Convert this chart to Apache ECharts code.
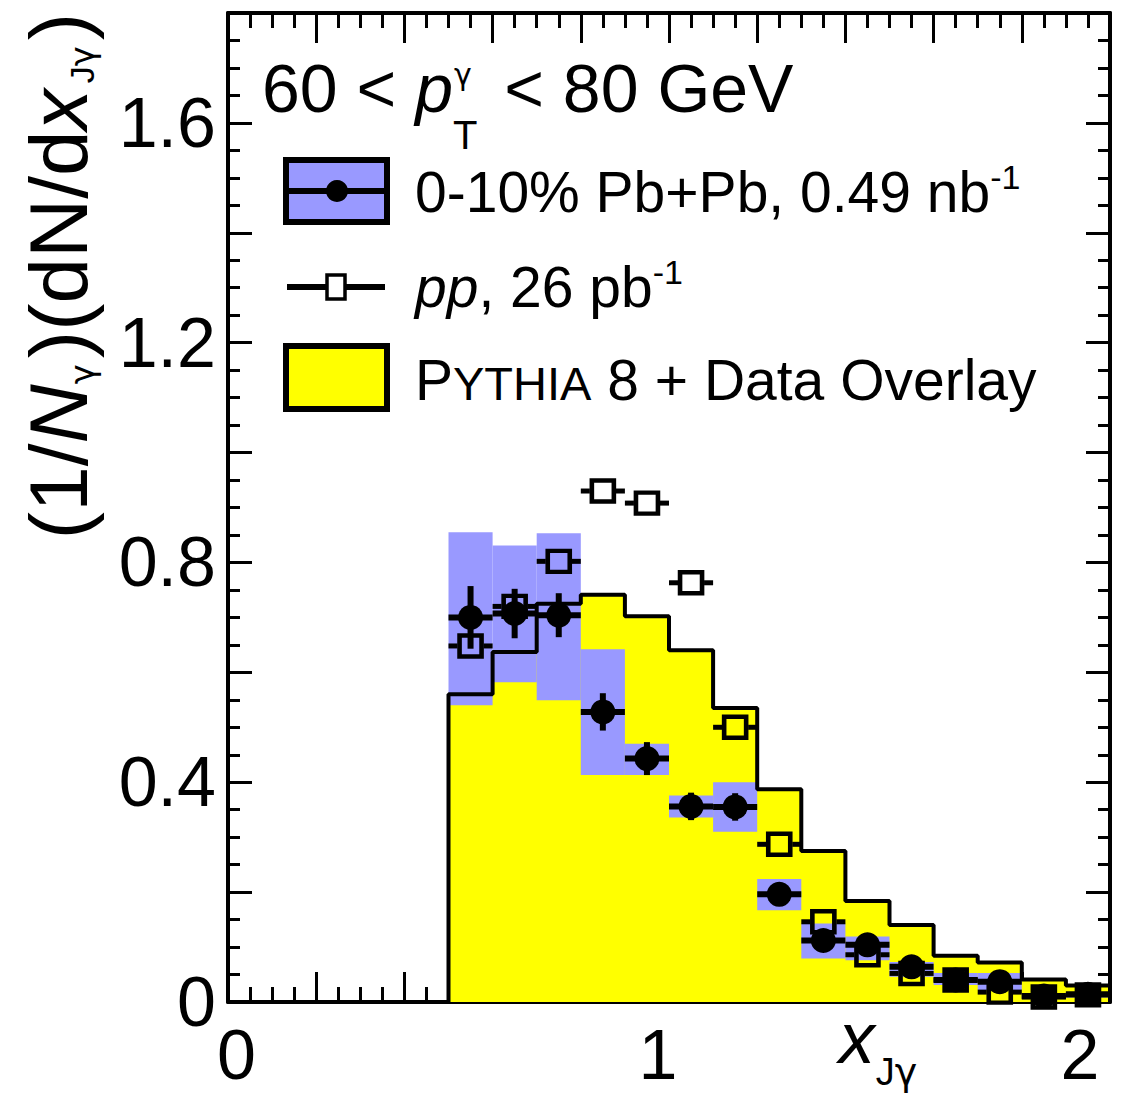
<!DOCTYPE html>
<html>
<head>
<meta charset="utf-8">
<title>x_Jγ distribution, 60 &lt; pT &lt; 80 GeV</title>
<script src="https://cdn.jsdelivr.net/npm/echarts@6/dist/echarts.min.js"></script>
<style>
  html, body { margin: 0; padding: 0; background: #ffffff; }
  #chart { width: 1129px; height: 1102px; }
</style>
</head>
<body>
<div id="chart"></div>
<script>
// ---- data: x_Jγ bins of width 0.1 from 0.5 to 2.0 ----
const binLow = [0.5, 0.6, 0.7, 0.8, 0.9, 1.0, 1.1, 1.2, 1.3, 1.4, 1.5, 1.6, 1.7, 1.8, 1.9];
const binWidth = 0.1;

// PYTHIA 8 + Data Overlay
const pythia = [0.560, 0.637, 0.725, 0.741, 0.702, 0.640, 0.535, 0.387, 0.275, 0.184, 0.140, 0.084, 0.072, 0.041, 0.030];

// 0-10% Pb+Pb: central values, statistical errors, systematic band
const pbpb     = [0.700, 0.707, 0.704, 0.528, 0.443, 0.356, 0.355, 0.196, 0.112, 0.104, 0.064, 0.040, 0.037, 0.011, 0.014];
const pbpbStat = [0.057, 0.045, 0.040, 0.034, 0.030, 0.025, 0.025, 0.015, 0.012, 0.010, 0.008, 0.006, 0.006, 0.004, 0.004];
const pbpbSysLow  = [0.540, 0.582, 0.549, 0.413, 0.413, 0.336, 0.310, 0.167, 0.079, 0.076, 0.046, 0.031, 0.022, 0.006, 0.008];
const pbpbSysHigh = [0.855, 0.831, 0.853, 0.642, 0.470, 0.376, 0.400, 0.224, 0.143, 0.119, 0.073, 0.053, 0.053, 0.016, 0.018];

// pp reference
const pp = [0.648, 0.720, 0.802, 0.930, 0.908, 0.763, 0.500, 0.287, 0.146, 0.086, 0.052, 0.040, 0.018, 0.009, 0.013];

// tick labels
const xTickLabels = ['0', '1', '2'];
const yTickLabels = ['0', '0.4', '0.8', '1.2', '1.6'];

// ---- styling ----
const FONT = '"Liberation Sans", Arial, Helvetica, sans-serif';
const GREEK = '"DejaVu Sans", "Liberation Sans", sans-serif';
const BLUE = '#9999ff';
const YELLOW = '#ffff00';
const BLACK = '#000000';

const binCenters = binLow.map(x => +(x + binWidth / 2).toFixed(3));
const lastEdge = +(binLow[binLow.length - 1] + binWidth).toFixed(3);

// step outline of the MC histogram, closed down to zero at both ends
const pythiaSteps = [[binLow[0], 0]]
  .concat(binLow.map((x, i) => [x, pythia[i]]))
  .concat([[lastEdge, pythia[pythia.length - 1]], [lastEdge, 0]]);

// Rich-text fragments sharing one bottom line; padding-bottom lifts a fragment
function scriptStyles(F, f, o) {
  o = o || {};
  const P = o.P || 0, Ps = o.Ps || 0, Q = o.Q || 0, sg = o.sg || 0, sgR = o.sgR || 0;
  const scF = Math.round(F * (o.sc || 0.8));
  const base = { fontFamily: FONT, fill: BLACK, color: BLACK, verticalAlign: 'bottom' };
  return {
    m:    Object.assign({}, base, { fontSize: F, lineHeight: F, padding: [0, 0, P, 0] }),
    mi:   Object.assign({}, base, { fontSize: F, lineHeight: F, padding: [0, 0, P, 0], fontStyle: 'italic' }),
    sub:  Object.assign({}, base, { fontSize: f, lineHeight: f, padding: [0, sgR, Ps, sg] }),
    subg: Object.assign({}, base, { fontSize: f, lineHeight: f, padding: [0, sg, Ps, 0], fontFamily: GREEK }),
    sup:  Object.assign({}, base, { fontSize: f, lineHeight: f, padding: [0, 0, Q, 0] }),
    sc:   Object.assign({}, base, { fontSize: scF, lineHeight: scF, padding: [0, 0, P + 0.15 * (F - scF), 0] })
  };
}

function textWidth(str, size, style) {
  const ctx = document.createElement('canvas').getContext('2d');
  ctx.font = (style || 'normal') + ' normal ' + size + 'px ' + FONT;
  return ctx.measureText(str).width;
}

function labelFor(list, v) {
  const hit = list.find(t => Math.abs(parseFloat(t) - v) < 1e-6);
  return hit === undefined ? '' : hit;
}

// ---- header and legend ----
const headF = 68, headSub = 40;
const headX = 262;
const gammaX = headX + textWidth('60 < ', headF) + textWidth('p', headF, 'italic') + 1;
const legF = 57, legSup = 34;

const graphicElements = [
  {
    type: 'text', x: headX, y: 162.2, z: 100,
    style: {
      text: '{m|60 < }{mi|p}{sub|T}{m| < 80 GeV}',
      rich: scriptStyles(headF, headSub, { P: 40, Ps: 7.6, sgR: 8 }),
      align: 'left', verticalAlign: 'bottom', fontFamily: FONT, fontSize: headF, fill: BLACK
    }
  },
  {
    type: 'text', x: gammaX, y: 74, z: 100,
    style: { text: 'γ', fontFamily: GREEK, fontSize: 30, fill: BLACK, align: 'left', verticalAlign: 'middle' }
  },
  // Pb+Pb entry: band with marker and error line
  { type: 'rect', z: 100, shape: { x: 286, y: 160, width: 101, height: 62 },
    style: { fill: BLUE, stroke: BLACK, lineWidth: 6 } },
  { type: 'line', z: 101, shape: { x1: 286, y1: 191, x2: 387, y2: 191 },
    style: { stroke: BLACK, lineWidth: 6 } },
  { type: 'circle', z: 102, shape: { cx: 337, cy: 191, r: 11 }, style: { fill: BLACK } },
  {
    type: 'text', x: 415, y: 220.6, z: 100,
    style: {
      text: '{m|0-10% Pb+Pb, 0.49 nb}{sup|-1}',
      rich: scriptStyles(legF, legSup, { Q: 27 }),
      align: 'left', verticalAlign: 'bottom', fontFamily: FONT, fontSize: legF, fill: BLACK
    }
  },
  // pp entry: line with open square
  { type: 'line', z: 100, shape: { x1: 287, y1: 287, x2: 385, y2: 287 },
    style: { stroke: BLACK, lineWidth: 6 } },
  { type: 'rect', z: 101, shape: { x: 327, y: 275, width: 18, height: 24 },
    style: { fill: '#ffffff', stroke: BLACK, lineWidth: 3.5 } },
  {
    type: 'text', x: 415, y: 315.6, z: 100,
    style: {
      text: '{mi|pp}{m|, 26 pb}{sup|-1}',
      rich: scriptStyles(legF, legSup, { Q: 27 }),
      align: 'left', verticalAlign: 'bottom', fontFamily: FONT, fontSize: legF, fill: BLACK
    }
  },
  // MC entry: filled box
  { type: 'rect', z: 100, shape: { x: 286, y: 346, width: 101, height: 63 },
    style: { fill: YELLOW, stroke: BLACK, lineWidth: 6 } },
  {
    type: 'text', x: 415, y: 408.6, z: 100,
    style: {
      text: '{m|P}{sc|YTHIA}{m| 8 + Data Overlay}',
      rich: scriptStyles(legF, legSup, { sc: 0.82 }),
      align: 'left', verticalAlign: 'bottom', fontFamily: FONT, fontSize: legF, fill: BLACK
    }
  }
];

// ---- axes ----
const tickLine = { color: BLACK, width: 3 };
const frameLine = { show: true, onZero: false, lineStyle: { color: BLACK, width: 4 } };

function xAxisDef(position, withLabels) {
  const ax = {
    type: 'value', position: position, min: 0, max: 2, interval: 0.2,
    axisLine: frameLine,
    axisTick: { show: true, inside: true, length: 30, lineStyle: tickLine },
    minorTick: { show: true, splitNumber: 4, length: 15, lineStyle: tickLine },
    splitLine: { show: false }, minorSplitLine: { show: false },
    axisLabel: { show: false }
  };
  if (withLabels) {
    const lab = { fontFamily: FONT, fontSize: 70, lineHeight: 70, color: BLACK };
    ax.axisLabel = {
      show: true, margin: 18, color: BLACK, fontFamily: FONT, fontSize: 70,
      showMinLabel: true, showMaxLabel: true,
      formatter: v => {
        const t = labelFor(xTickLabels, v);
        return t === '' ? '' : '{t' + t + '|' + t + '}';
      },
      rich: {
        t0: Object.assign({}, lab, { padding: [0, 0, 0, 17] }),
        t1: Object.assign({}, lab, { padding: [0, 22, 0, 0] }),
        t2: Object.assign({}, lab, { padding: [0, 60, 0, 0] })
      }
    };
    ax.name = '{mi|x}{sub|J}{subg|γ}';
    ax.nameLocation = 'end';
    ax.nameGap = -231.5;
    ax.nameMoveOverlap = false;
    ax.nameTextStyle = {
      align: 'center', verticalAlign: 'top', padding: [16.5, 0, 0, 0],
      rich: scriptStyles(72, 38, { P: 17, sg: 1 })
    };
  }
  return ax;
}

function yAxisDef(position, withLabels) {
  const ax = {
    type: 'value', position: position, min: 0, max: 1.8, interval: 0.2,
    axisLine: frameLine,
    axisTick: { show: true, inside: true, length: 24, lineStyle: tickLine },
    minorTick: { show: true, splitNumber: 4, length: 12, lineStyle: tickLine },
    splitLine: { show: false }, minorSplitLine: { show: false },
    axisLabel: { show: false }
  };
  if (withLabels) {
    ax.axisLabel = {
      show: true, margin: 12, color: BLACK, fontFamily: FONT, fontSize: 70,
      showMinLabel: true, showMaxLabel: true,
      formatter: v => labelFor(yTickLabels, v)
    };
    ax.name = '{m|(1/}{mi|N}{subg|γ}{m|)(dN/d}{mi|x}{sub|J}{subg|γ}{m|)}';
    ax.nameLocation = 'middle';
    ax.nameRotate = 90;
    ax.nameGap = 128.7;
    ax.nameMoveOverlap = false;
    ax.nameTextStyle = {
      padding: [0, 0, 0, 463],
      rich: scriptStyles(82, 34, { sg: 6 })
    };
  }
  return ax;
}

// ---- series ----
const series = [
  {
    name: 'PYTHIA 8 + Data Overlay', type: 'line', data: pythiaSteps, step: 'end',
    symbol: 'none', lineStyle: { width: 0, opacity: 0 },
    areaStyle: { color: YELLOW, opacity: 1 }, z: 1, silent: true
  },
  {
    name: '0-10% Pb+Pb syst.', type: 'custom', z: 2, silent: true,
    data: binLow.map((x, i) => [x, pbpbSysLow[i], pbpbSysHigh[i]]),
    encode: { x: 0, y: [1, 2] },
    renderItem: (params, api) => {
      const a = api.coord([api.value(0), api.value(2)]);
      const b = api.coord([api.value(0) + binWidth, api.value(1)]);
      return { type: 'rect', shape: { x: a[0], y: a[1], width: b[0] - a[0], height: b[1] - a[1] },
               style: { fill: BLUE } };
    }
  },
  {
    name: 'PYTHIA 8 outline', type: 'line', data: pythiaSteps, step: 'end',
    symbol: 'none', lineStyle: { color: BLACK, width: 4 }, z: 3, silent: true
  },
  {
    name: 'pp bin width', type: 'custom', z: 4, silent: true,
    data: binCenters.map((x, i) => [x, pp[i]]),
    encode: { x: 0, y: 1 },
    renderItem: (params, api) => {
      const xc = api.value(0), y = api.value(1);
      const l = api.coord([xc - binWidth / 2, y]);
      const r = api.coord([xc + binWidth / 2, y]);
      const c = api.coord([xc, y]);
      const half = 13;
      const st = { stroke: BLACK, lineWidth: 5 };
      return { type: 'group', children: [
        { type: 'line', shape: { x1: l[0], y1: l[1], x2: c[0] - half, y2: c[1] }, style: st },
        { type: 'line', shape: { x1: c[0] + half, y1: c[1], x2: r[0], y2: r[1] }, style: st }
      ] };
    }
  },
  {
    name: 'pp, 26 pb-1', type: 'scatter', z: 5, silent: true,
    data: binCenters.map((x, i) => [x, pp[i]]),
    symbol: 'rect', symbolSize: [22, 21],
    itemStyle: { color: 'rgba(0,0,0,0)', borderColor: BLACK, borderWidth: 4.5, opacity: 1 }
  },
  {
    name: '0-10% Pb+Pb errors', type: 'custom', z: 6, silent: true,
    data: binCenters.map((x, i) => [x, pbpb[i], pbpbStat[i]]),
    encode: { x: 0, y: 1 },
    renderItem: (params, api) => {
      const xc = api.value(0), y = api.value(1), e = api.value(2);
      const l = api.coord([xc - binWidth / 2, y]);
      const r = api.coord([xc + binWidth / 2, y]);
      const t = api.coord([xc, y + e]);
      const b = api.coord([xc, Math.max(0, y - e)]);
      const st = { stroke: BLACK, lineWidth: 6 };
      return { type: 'group', children: [
        { type: 'line', shape: { x1: l[0], y1: l[1], x2: r[0], y2: r[1] }, style: st },
        { type: 'line', shape: { x1: t[0], y1: t[1], x2: b[0], y2: b[1] }, style: st }
      ] };
    }
  },
  {
    name: '0-10% Pb+Pb, 0.49 nb-1', type: 'scatter', z: 7, silent: true,
    data: binCenters.map((x, i) => [x, pbpb[i]]),
    symbol: 'circle', symbolSize: 25,
    itemStyle: { color: BLACK, opacity: 1 }
  }
];

const chart = echarts.init(document.getElementById('chart'), null, { renderer: 'svg' });
chart.setOption({
  animation: false,
  backgroundColor: '#ffffff',
  grid: { left: 228, right: 19, top: 13, bottom: 100, containLabel: false, outerBoundsMode: 'none' },
  xAxis: [xAxisDef('bottom', true), xAxisDef('top', false)],
  yAxis: [yAxisDef('left', true), yAxisDef('right', false)],
  series: series,
  graphic: { elements: graphicElements }
});
</script>
</body>
</html>
